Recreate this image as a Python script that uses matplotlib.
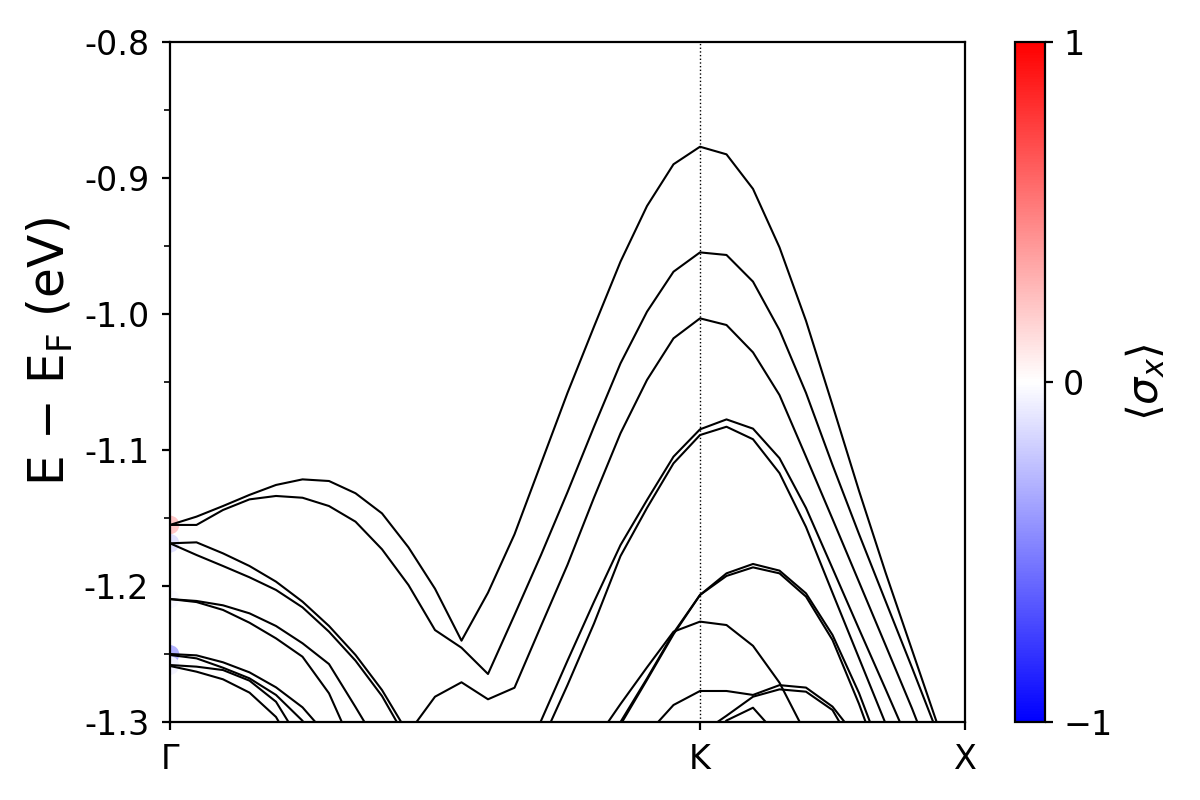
import matplotlib
matplotlib.use("Agg")
import matplotlib.pyplot as plt
import numpy as np
from matplotlib.ticker import MultipleLocator

nan = np.nan

# k-path: 31 points, Γ at 0, K at 20, X at 30
kpts = np.arange(31)
tick_pos = [0, 20, 30]
tick_labels = ["Γ", "K", "X"]

# band energies (eV); nan = outside the window
band_A = [-1.1551, -1.149, -1.1412, -1.133, -1.1257, -1.1216, -1.1228, -1.1318, -1.1466, -1.1716,
          -1.202, -1.2402, -1.2049, -1.162, -1.11, -1.058, -1.0093, -0.9615, -0.9206, -0.8899,
          -0.877, -0.8826, -0.908, -0.951, -1.005, -1.067, -1.130, -1.190, -1.247, -1.304, -1.36]
band_B = [-1.1551, -1.1551, -1.1441, -1.1363, -1.1338, -1.1351, -1.1412, -1.1527, -1.173, -1.1993,
          -1.2324, -1.2454, -1.2647, -1.2213, -1.1772, -1.131, -1.0829, -1.0363, -0.9983, -0.9689,
          -0.9547, -0.9566, -0.9762, -1.0118, -1.058, -1.111, -1.1618, -1.211, -1.260, -1.31, -1.36]
band_C = [nan] * 8 + [-1.335, -1.308, -1.2814, -1.2708, -1.2833, -1.2748, -1.2294, -1.1844, -1.135,
                      -1.0877, -1.0485, -1.0179, -1.0032, -1.0081, -1.0282, -1.0596, -1.1049,
                      -1.1507, -1.197, -1.2434, -1.29, -1.34, -1.39]
band_D = [nan] * 13 + [-1.343, -1.2992, -1.2549, -1.2116, -1.1699, -1.1368, -1.1049, -1.0848,
                       -1.0775, -1.0843, -1.106, -1.1426, -1.187, -1.2316, -1.2757, -1.3204,
                       -1.365, -1.41]
band_E = [nan] * 13 + [-1.36, -1.3158, -1.2728, -1.2276, -1.178, -1.1426, -1.1098, -1.089,
                       -1.0829, -1.0921, -1.117, -1.1566, -1.205, -1.253, -1.301, -1.35,
                       -1.40, -1.45]
band_F = [nan] * 16 + [-1.34, -1.300, -1.268, -1.2345, -1.2066, -1.1907, -1.1838, -1.1887,
                       -1.2054, -1.2360, -1.2787, -1.33, -1.38] + [nan] * 2
band_G = [nan] * 16 + [-1.345, -1.302, -1.269, -1.2355, -1.2066, -1.1926, -1.1863, -1.1907,
                       -1.2078, -1.2397, -1.2867, -1.34, -1.39] + [nan] * 2
band_H = [nan] * 16 + [-1.315, -1.2868, -1.2598, -1.2336, -1.2262, -1.2287, -1.244, -1.2711,
                       -1.309] + [nan] * 6
band_I = [nan] * 18 + [-1.309, -1.2875, -1.2772, -1.2772, -1.2801, -1.2729, -1.2747, -1.2887,
                       -1.3135] + [nan] * 4
band_J = [nan] * 20 + [-1.3088, -1.2954, -1.2814, -1.276, -1.2777, -1.2912, -1.3247] + [nan] * 4
band_K = [nan] * 20 + [-1.32, -1.2989, -1.2895, -1.3113] + [nan] * 7
band_P = [-1.1686, -1.1679, -1.176, -1.1853, -1.1968, -1.2115, -1.2294, -1.2507, -1.2765,
          -1.309] + [nan] * 21
band_Q = [-1.1686, -1.1772, -1.1853, -1.1936, -1.2029, -1.2157, -1.2336, -1.2549, -1.2809,
          -1.315] + [nan] * 21
band_R = [-1.2096, -1.211, -1.2142, -1.2201, -1.2294, -1.2421, -1.2574, -1.289, -1.3215] + [nan] * 22
band_S = [-1.2096, -1.2118, -1.2176, -1.227, -1.2385, -1.252, -1.2789, -1.3225] + [nan] * 23
band_T1 = [-1.25, -1.251, -1.2561, -1.2635, -1.2745, -1.2892, -1.3115] + [nan] * 24
band_T2 = [-1.2507, -1.2532, -1.2601, -1.2679, -1.2801, -1.2991, -1.33] + [nan] * 24
band_T3 = [-1.2581, -1.2593, -1.2618, -1.2696, -1.2851, -1.3168] + [nan] * 25
band_T4 = [-1.2588, -1.263, -1.2686, -1.2784, -1.2963, -1.33] + [nan] * 25

bands = [band_A, band_B, band_C, band_D, band_E, band_F, band_G, band_H, band_I, band_J,
         band_K, band_P, band_Q, band_R, band_S, band_T1, band_T2, band_T3, band_T4]

# spin texture <sigma_x> at Gamma (only points with visible colour)
gamma_E = [-1.1551, -1.1686, -1.2096, -1.2503, -1.2585]
gamma_sx = [0.22, -0.12, -0.03, -0.30, -0.05]

yticks = [-0.8, -0.9, -1.0, -1.1, -1.2, -1.3]

fig = plt.figure(figsize=(6, 4), dpi=200)
ax = fig.add_axes([170 / 1200, 78 / 800, 795 / 1200, 680 / 800])
cax = fig.add_axes([1015 / 1200, 78 / 800, 30 / 1200, 680 / 800])

sc = ax.scatter([0] * len(gamma_E), gamma_E, c=gamma_sx, cmap="bwr", vmin=-1, vmax=1,
                s=45, edgecolors="none", zorder=1)
for b in bands:
    ax.plot(kpts, b, color="black", lw=0.75, zorder=2)

ax.axvline(20, color="black", ls=":", lw=0.5, zorder=3)

ax.set_xlim(0, 30)
ax.set_ylim(-1.3, -0.8)
ax.set_xticks(tick_pos)
ax.set_xticklabels(tick_labels)
ax.set_yticks(yticks)
ax.set_yticklabels([f"{v:.1f}" for v in yticks])
ax.yaxis.set_minor_locator(MultipleLocator(0.05))
ax.tick_params(axis="both", which="major", labelsize=12, length=3, pad=4.5)
ax.tick_params(axis="y", which="minor", length=2)
ax.set_ylabel("E − E$_\\mathrm{F}$ (eV)", fontsize=17.5)
ax.yaxis.set_label_coords(-0.12, 0.545)

cb = fig.colorbar(sc, cax=cax, ticks=[-1, 0, 1])
cb.ax.tick_params(labelsize=12, length=3)
cb.set_label(r"$\langle\sigma_x\rangle$", fontsize=15.5, labelpad=4)

fig.savefig("out.png", dpi=200)
